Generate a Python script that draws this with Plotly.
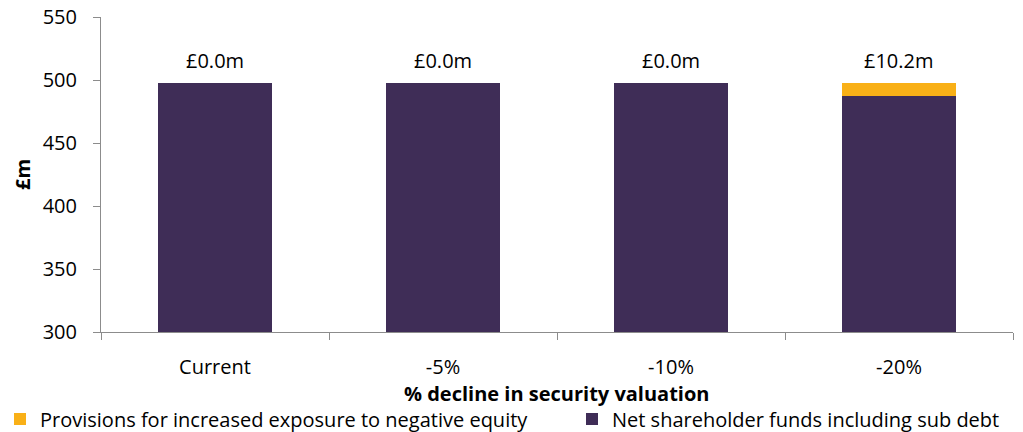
import plotly.graph_objects as go

categories = ["Current", "-5%", "-10%", "-20%"]
net_funds = [497.6, 497.6, 497.6, 487.4]
provisions = [0.0, 0.0, 0.0, 10.2]

PURPLE = "#3F2D57"
ORANGE = "#F9B017"
AXIS = "#8C8C8C"
FONT = "Open Sans"
FS = 20
W, H = 1023, 432

fig = go.Figure()
fig.add_trace(go.Bar(
    x=categories, y=net_funds, name="Net shareholder funds including sub debt",
    marker=dict(color=PURPLE, line=dict(width=0)), width=0.5, legend="legend2",
))
fig.add_trace(go.Bar(
    x=categories, y=provisions, name="Provisions for increased exposure to negative equity",
    marker=dict(color=ORANGE, line=dict(width=0)), width=0.5, legend="legend",
))

# value labels above each stack
for cat, base, prov in zip(categories, net_funds, provisions):
    fig.add_annotation(
        x=cat, y=base + prov, text=f"£{prov:.1f}m", showarrow=False,
        yanchor="bottom", yshift=7, font=dict(size=FS, color="#000000", family=FONT),
    )

# x-axis title
fig.add_annotation(
    xref="paper", yref="paper", x=0.5, y=0, yshift=-61, yanchor="middle",
    text="<b>% decline in security valuation</b>", showarrow=False,
    font=dict(size=FS, color="#000000", family=FONT),
)

legend_common = dict(
    orientation="h", xref="container", yref="container",
    xanchor="left", y=0.03, yanchor="middle",
    font=dict(size=FS, family=FONT), itemwidth=30,
)

fig.update_layout(
    barmode="stack",
    width=W, height=H,
    margin=dict(l=101, r=10, t=17, b=100, autoexpand=False),
    plot_bgcolor="white", paper_bgcolor="white",
    font=dict(family=FONT, size=FS, color="#000000"),
    showlegend=True,
    legend=dict(x=-18 / W, **legend_common),
    legend2=dict(x=572 / W, **legend_common),
    xaxis=dict(
        showline=True, linecolor=AXIS, linewidth=1,
        ticks="outside", ticklen=7, tickcolor=AXIS, tickson="boundaries",
        ticklabelstandoff=17, tickfont=dict(size=FS),
    ),
    yaxis=dict(
        range=[300, 550], dtick=50, showgrid=False, zeroline=False,
        showline=True, linecolor=AXIS, linewidth=1,
        ticks="outside", ticklen=7, tickcolor=AXIS, ticklabelstandoff=12,
        title=dict(text="<b>£m</b>", standoff=6, font=dict(size=FS)),
        tickfont=dict(size=FS),
    ),
)

fig.write_html("out.html")
